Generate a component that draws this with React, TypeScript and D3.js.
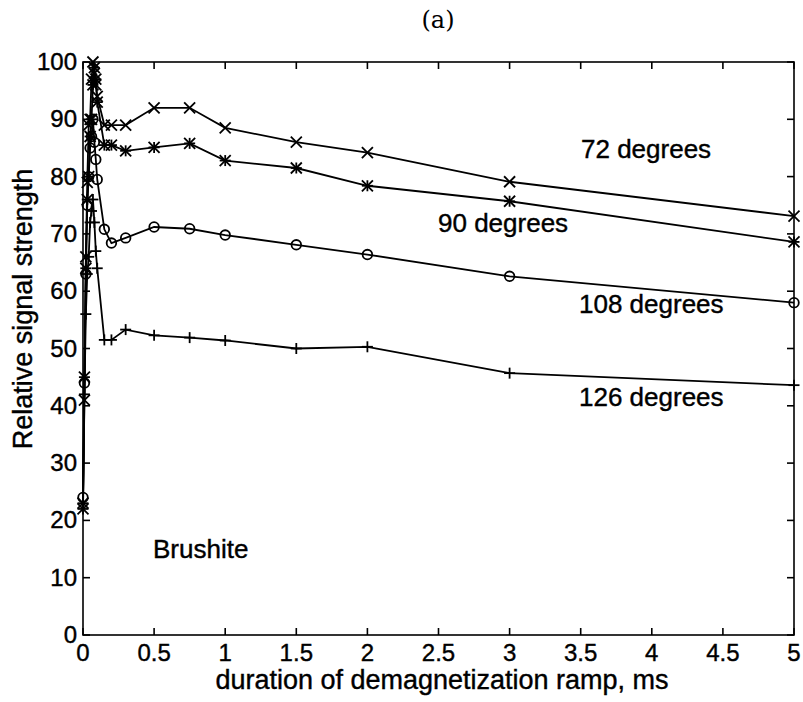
import React, { useEffect, useRef } from 'react';
import * as d3 from 'd3';

// demagnetization ramp durations (ms)
const durations = [0, 0.01, 0.02, 0.03, 0.04, 0.05, 0.06, 0.07, 0.08, 0.09, 0.1, 0.15, 0.2, 0.3, 0.5, 0.75, 1, 1.5, 2, 3, 5];

const deg72 = [22, 41, 66, 79, 89, 90, 97, 100, 98, 96, 94, 89, 89, 89, 92, 92, 88.5, 86, 84.2, 79.1, 73.1];
const deg90 = [23, 45, 64, 76, 80, 87, 90, 96, 99, 97, 93, 85.5, 85.5, 84.5, 85.1, 85.8, 82.8, 81.5, 78.4, 75.7, 68.6];
const deg108 = [24, 44, 63, 75, 80, 85, 87, 90, 86, 83, 79.5, 70.8, 68.4, 69.3, 71.2, 70.9, 69.8, 68.1, 66.4, 62.6, 58];
const deg126 = [22, 42, 56, 63, 66, 72, 74, 76, 72, 67, 64, 51.5, 51.5, 53.3, 52.3, 51.9, 51.4, 50, 50.3, 45.7, 43.6];

const xTicks = [0, 0.5, 1, 1.5, 2, 2.5, 3, 3.5, 4, 4.5, 5];
const yTicks = [0, 10, 20, 30, 40, 50, 60, 70, 80, 90, 100];

const series = [
  { name: '72 degrees', values: deg72, marker: 'x' },
  { name: '90 degrees', values: deg90, marker: 'star' },
  { name: '108 degrees', values: deg108, marker: 'o' },
  { name: '126 degrees', values: deg126, marker: 'plus' },
];

const labels = [
  { text: '72 degrees', x: 581, y: 158 },
  { text: '90 degrees', x: 438, y: 232 },
  { text: '108 degrees', x: 579, y: 313 },
  { text: '126 degrees', x: 579, y: 406 },
  { text: 'Brushite', x: 153, y: 558 },
];

const W = 803;
const H = 702;
const left = 83, right = 794, top = 62, bottom = 635;
const font = '"Liberation Sans", Arial, Helvetica, sans-serif';

export default function App() {
  const ref = useRef<SVGSVGElement>(null);

  useEffect(() => {
    const svg = d3.select(ref.current);
    svg.selectAll('*').remove();

    const x = d3.scaleLinear().domain([0, 5]).range([left, right]);
    const y = d3.scaleLinear().domain([0, 100]).range([bottom, top]);

    svg.append('rect').attr('width', W).attr('height', H).attr('fill', '#fff');

    // title
    svg.append('text')
      .attr('x', 438).attr('y', 28)
      .attr('text-anchor', 'middle')
      .attr('font-family', '"DejaVu Serif", "Liberation Serif", serif')
      .attr('font-size', 24)
      .text('(a)');

    // box + inward ticks
    const axes = svg.append('g').attr('stroke', '#000').attr('stroke-width', 1.6).attr('fill', 'none');
    axes.append('rect')
      .attr('x', left).attr('y', top)
      .attr('width', right - left).attr('height', bottom - top);
    const tl = 7;
    xTicks.forEach(t => {
      axes.append('line').attr('x1', x(t)).attr('x2', x(t)).attr('y1', bottom).attr('y2', bottom - tl);
      axes.append('line').attr('x1', x(t)).attr('x2', x(t)).attr('y1', top).attr('y2', top + tl);
    });
    yTicks.forEach(t => {
      axes.append('line').attr('x1', left).attr('x2', left + tl).attr('y1', y(t)).attr('y2', y(t));
      axes.append('line').attr('x1', right).attr('x2', right - tl).attr('y1', y(t)).attr('y2', y(t));
    });

    const txt = (g: any) => g.attr('font-family', font).attr('fill', '#000')
      .attr('stroke', '#000').attr('stroke-width', 0.4);

    const tickText = svg.append('g').call(txt).attr('font-size', 24);
    xTicks.forEach(t => {
      tickText.append('text')
        .attr('x', x(t)).attr('y', bottom + 26)
        .attr('text-anchor', 'middle')
        .text(d3.format('~g')(t));
    });
    yTicks.forEach(t => {
      tickText.append('text')
        .attr('x', left - 6).attr('y', y(t) + 8)
        .attr('text-anchor', 'end')
        .text(t);
    });

    // axis titles
    svg.append('text').call(txt)
      .attr('x', 442).attr('y', 689)
      .attr('text-anchor', 'middle')
      .attr('font-size', 27)
      .text('duration of demagnetization ramp, ms');
    svg.append('text').call(txt)
      .attr('transform', `translate(32 309) rotate(-90)`)
      .attr('text-anchor', 'middle')
      .attr('font-size', 27)
      .text('Relative signal strength');

    // lines
    const line = d3.line<number>()
      .x((d, i) => x(durations[i]))
      .y(d => y(d));

    const plot = svg.append('g');
    series.forEach(s => {
      plot.append('path')
        .attr('d', line(s.values))
        .attr('fill', 'none')
        .attr('stroke', '#000')
        .attr('stroke-width', 1.8);

      const m = 5.5;
      s.values.forEach((v, i) => {
        const cx = x(durations[i]);
        const cy = y(v);
        const g = plot.append('g')
          .attr('transform', `translate(${cx} ${cy})`)
          .attr('stroke', '#000').attr('stroke-width', 1.8).attr('fill', 'none');
        if (s.marker === 'o') {
          g.append('circle').attr('r', 4.8);
        }
        if (s.marker === 'x' || s.marker === 'star') {
          g.append('line').attr('x1', -m).attr('y1', -m).attr('x2', m).attr('y2', m);
          g.append('line').attr('x1', -m).attr('y1', m).attr('x2', m).attr('y2', -m);
        }
        if (s.marker === 'plus' || s.marker === 'star') {
          g.append('line').attr('x1', -m).attr('y1', 0).attr('x2', m).attr('y2', 0);
          g.append('line').attr('x1', 0).attr('y1', -m).attr('x2', 0).attr('y2', m);
        }
      });
    });

    // annotations
    svg.append('g').call(txt)
      .attr('font-size', 26)
      .selectAll('text').data(labels)
      .enter()
      .append('text')
      .attr('x', d => d.x).attr('y', d => d.y)
      .text(d => d.text);
  }, []);

  return (
    <svg ref={ref} width={W} height={H} style={{ position: 'absolute', left: 0, top: 0 }} />
  );
}
